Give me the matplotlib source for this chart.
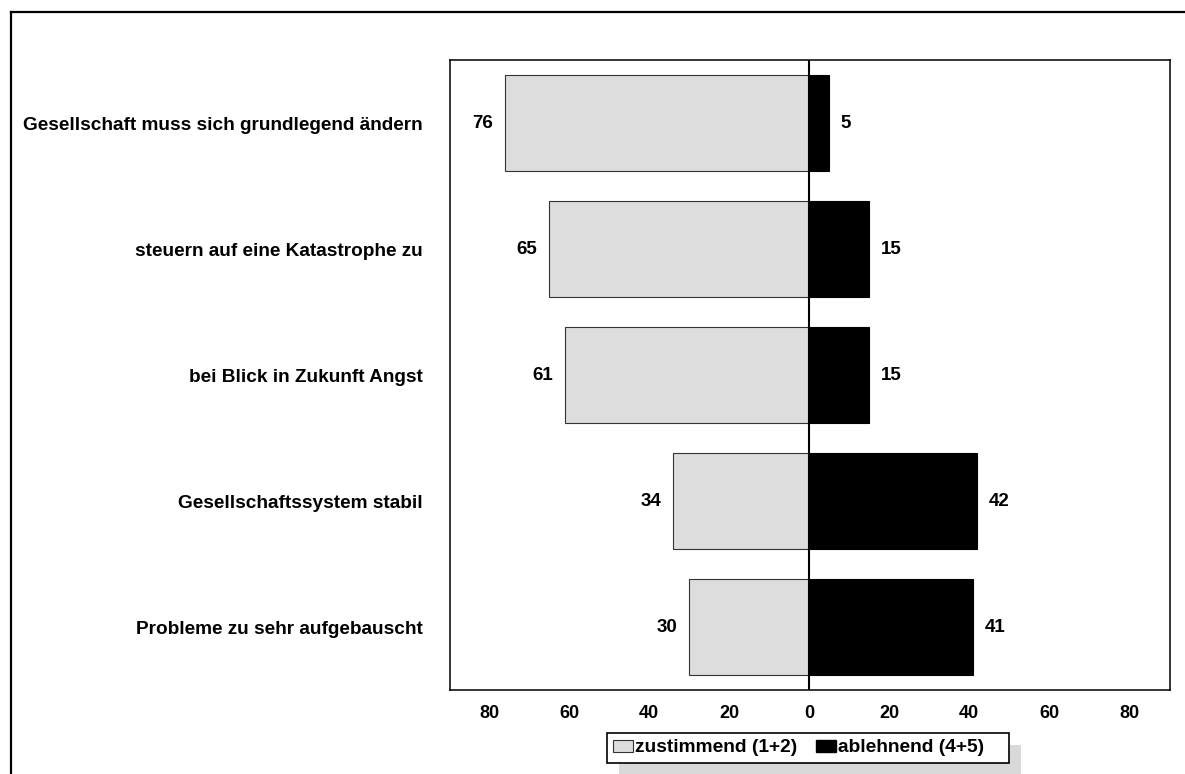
import matplotlib.pyplot as plt
from matplotlib.patches import Rectangle
from matplotlib.lines import Line2D
import numpy as np

# Aussagen und Anteile in Prozent
aussagen = [
    'Gesellschaft muss sich grundlegend ändern',
    'steuern auf eine Katastrophe zu',
    'bei Blick in Zukunft Angst',
    'Gesellschaftssystem stabil',
    'Probleme zu sehr aufgebauscht',
]
zustimmend = [76, 65, 61, 34, 30]
ablehnend = [5, 15, 15, 42, 41]
ticks = [-80, -60, -40, -20, 0, 20, 40, 60, 80]

plt.rcParams['font.family'] = ['Liberation Sans', 'DejaVu Sans']
plt.rcParams['font.weight'] = 'bold'

W_PX, H_PX = 1185, 774
fig = plt.figure(figsize=(W_PX / 100, H_PX / 100), dpi=100)
ax = fig.add_axes([450 / W_PX, 1 - 690 / H_PX, 720 / W_PX, 630 / H_PX])

y = np.arange(len(aussagen))
ax.barh(y, [-v for v in zustimmend], height=0.76, color='#dddddd',
        edgecolor='#333333', linewidth=0.8, zorder=2)
ax.barh(y, ablehnend, height=0.76, color='black', edgecolor='black',
        linewidth=0.8, zorder=2)
ax.axvline(0, color='black', linewidth=1.5, zorder=3)

# Werte neben den Balken
for i in range(len(aussagen)):
    ax.text(-zustimmend[i] - 2.9, y[i], str(zustimmend[i]), ha='right', va='center',
            fontsize=13.5, fontweight='bold')
    ax.text(ablehnend[i] + 2.9, y[i], str(ablehnend[i]), ha='left', va='center',
            fontsize=13.5, fontweight='bold')

ax.set_xlim(-89.75, 90.25)
ax.set_ylim(len(aussagen) - 0.5, -0.5)
ax.set_yticks(y)
ax.set_yticklabels(aussagen, fontsize=13.7, fontweight='bold')
ax.set_xticks(ticks)
ax.set_xticklabels([str(abs(t)) for t in ticks], fontsize=13, fontweight='bold')
ax.tick_params(axis='both', length=0)
ax.tick_params(axis='y', pad=19.5)
ax.tick_params(axis='x', pad=11)
for s in ax.spines.values():
    s.set_linewidth(1.1)

# Legende: Rahmen und Schatten werden selbst gezeichnet
handles = [Rectangle((0, 0), 1, 1, facecolor='#dddddd', edgecolor='#333333', linewidth=0.8),
           Rectangle((0, 0), 1, 1, facecolor='black', edgecolor='black')]
leg = fig.legend(handles, ['zustimmend (1+2)', 'ablehnend (4+5)'], ncol=2,
                 loc='center left', bbox_to_anchor=(613 / W_PX, 1 - 748 / H_PX),
                 frameon=False, borderpad=0, borderaxespad=0,
                 handlelength=1.03, handleheight=0.62, handletextpad=0.1,
                 columnspacing=1.0,
                 prop={'weight': 'bold', 'size': 13.8})
leg.set_zorder(6)

fig.canvas.draw()
bb = leg.get_window_extent()
x0, x1 = bb.x0 - 6, bb.x1 + 25
y1 = bb.y0 + bb.height / 2 + 15
y0 = y1 - 30
fig.patches.append(Rectangle(((x0 + 12) / W_PX, (y0 - 12) / H_PX), (x1 - x0) / W_PX, (y1 - y0) / H_PX,
                             transform=fig.transFigure, facecolor='#d9d9d9',
                             edgecolor='none', zorder=4))
fig.patches.append(Rectangle((x0 / W_PX, y0 / H_PX), (x1 - x0) / W_PX, (y1 - y0) / H_PX,
                             transform=fig.transFigure, facecolor='white',
                             edgecolor='black', linewidth=1.2, zorder=5))

# Rahmen um die Grafik
fig.add_artist(Line2D([11 / W_PX, 11 / W_PX], [0, 1 - 12 / H_PX], color='black', linewidth=1.6))
fig.add_artist(Line2D([11 / W_PX, 1], [1 - 12 / H_PX, 1 - 12 / H_PX], color='black', linewidth=1.6))

fig.savefig('out.png', dpi=100)
